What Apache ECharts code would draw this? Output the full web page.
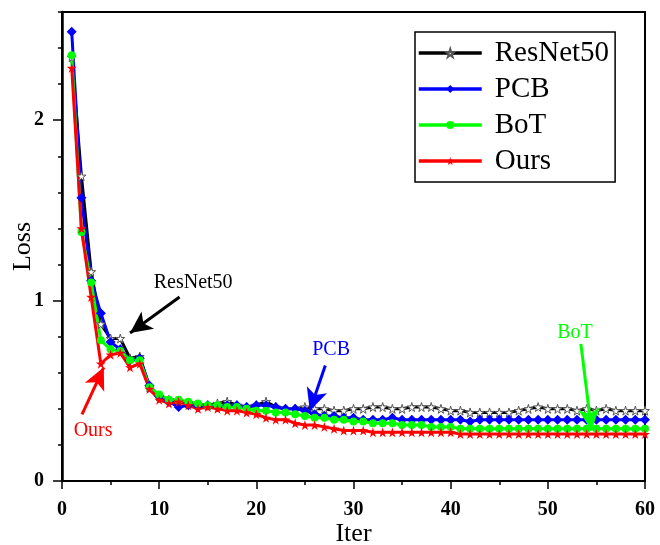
<!DOCTYPE html>
<html>
<head>
<meta charset="utf-8">
<script src="https://cdn.jsdelivr.net/npm/echarts@6/dist/echarts.min.js"></script>
<style>
  html, body { margin: 0; padding: 0; background: #fff; }
  #main { width: 660px; height: 545px; }
</style>
</head>
<body>
<div id="main"></div>
<script>
  // iteration index (x axis)
  var iters = [1, 2, 3, 4, 5, 6, 7, 8, 9, 10, 11, 12, 13, 14, 15, 16, 17, 18, 19, 20,
    21, 22, 23, 24, 25, 26, 27, 28, 29, 30, 31, 32, 33, 34, 35, 36, 37, 38, 39, 40,
    41, 42, 43, 44, 45, 46, 47, 48, 49, 50, 51, 52, 53, 54, 55, 56, 57, 58, 59, 60]

  var resnet50 = [2.35, 1.69, 1.16, 0.87, 0.79, 0.79, 0.68, 0.69, 0.52, 0.47,
    0.45, 0.44, 0.43, 0.42, 0.42, 0.43, 0.44, 0.42, 0.41, 0.42,
    0.44, 0.41, 0.40, 0.40, 0.41, 0.40, 0.40, 0.39, 0.39, 0.40,
    0.40, 0.41, 0.41, 0.40, 0.40, 0.41, 0.41, 0.41, 0.40, 0.39,
    0.39, 0.38, 0.38, 0.38, 0.38, 0.38, 0.39, 0.40, 0.41, 0.40,
    0.40, 0.40, 0.39, 0.40, 0.39, 0.40, 0.39, 0.39, 0.39, 0.39]

  var pcb = [2.49, 1.57, 1.11, 0.93, 0.77, 0.73, 0.67, 0.68, 0.53, 0.47,
    0.44, 0.41, 0.42, 0.41, 0.42, 0.41, 0.42, 0.42, 0.41, 0.42,
    0.42, 0.41, 0.40, 0.40, 0.39, 0.37, 0.36, 0.36, 0.35, 0.35,
    0.34, 0.34, 0.34, 0.35, 0.34, 0.34, 0.34, 0.34, 0.34, 0.34,
    0.34, 0.33, 0.34, 0.34, 0.34, 0.34, 0.34, 0.34, 0.34, 0.34,
    0.34, 0.34, 0.34, 0.34, 0.34, 0.34, 0.34, 0.34, 0.34, 0.34]

  var bot = [2.36, 1.38, 1.10, 0.78, 0.73, 0.72, 0.67, 0.67, 0.52, 0.48,
    0.45, 0.45, 0.44, 0.43, 0.42, 0.42, 0.41, 0.41, 0.40, 0.39,
    0.39, 0.38, 0.38, 0.37, 0.36, 0.35, 0.35, 0.34, 0.34, 0.33,
    0.33, 0.32, 0.32, 0.32, 0.31, 0.31, 0.31, 0.30, 0.30, 0.30,
    0.29, 0.29, 0.29, 0.29, 0.29, 0.29, 0.29, 0.29, 0.29, 0.29,
    0.29, 0.29, 0.29, 0.29, 0.29, 0.29, 0.29, 0.29, 0.29, 0.29]

  var ours = [2.29, 1.40, 1.02, 0.65, 0.70, 0.71, 0.63, 0.65, 0.51, 0.45,
    0.43, 0.44, 0.42, 0.40, 0.41, 0.40, 0.39, 0.39, 0.38, 0.37,
    0.35, 0.34, 0.34, 0.32, 0.31, 0.31, 0.30, 0.29, 0.28, 0.28,
    0.28, 0.27, 0.27, 0.27, 0.27, 0.27, 0.27, 0.27, 0.27, 0.27,
    0.26, 0.26, 0.26, 0.26, 0.26, 0.26, 0.26, 0.26, 0.26, 0.26,
    0.26, 0.26, 0.26, 0.26, 0.26, 0.26, 0.26, 0.26, 0.26, 0.26]

  var yLabelTicks = [0, 1, 2]

  var font = 'Liberation Serif'
  var star = 'path://M50,0 L61,35 L98,35 L68,57 L79,91 L50,70 L21,91 L32,57 L2,35 L39,35 Z'

  function pairs(vals) {
    return iters.map(function (x, i) { return [x, vals[i]] })
  }

  // arrow + text annotation in data coordinates
  function note(text, color, pos, from, to) {
    return {
      markLine: {
        silent: true,
        animation: false,
        symbol: ['none', 'arrow'],
        symbolSize: [16, 22],
        lineStyle: { color: color, width: 3, type: 'solid' },
        label: { show: false },
        data: [[{ coord: from }, { coord: to }]]
      },
      markPoint: {
        silent: true,
        animation: false,
        symbol: 'circle',
        symbolSize: 0,
        label: { show: true, formatter: text, color: color, fontSize: 20, fontFamily: font, position: 'inside' },
        data: [{ coord: pos }]
      }
    }
  }

  var myChart = echarts.init(document.getElementById('main'))

  var mk = function (name, vals, color, symbol, size, itemStyle, n) {
    return Object.assign({
      name: name,
      type: 'line',
      data: pairs(vals),
      symbol: symbol,
      symbolSize: size,
      lineStyle: { color: color, width: 3 },
      itemStyle: itemStyle,
      animation: false
    }, n)
  }

  var option = {
    backgroundColor: '#fff',
    grid: {
      left: 62, right: 15, top: 12, bottom: 64,
      show: true, borderColor: '#000', borderWidth: 2,
      outerBoundsMode: 'none'
    },
    legend: {
      orient: 'vertical',
      left: 415, top: 32,
      padding: [6, 6, 6, 2],
      itemWidth: 63, itemHeight: 10, itemGap: 6,
      borderColor: '#000', borderWidth: 1.5,
      lineStyle: { width: 3.5 },
      textStyle: { fontSize: 29, fontFamily: font, color: '#000', lineHeight: 30, padding: [0, 0, 0, 8] },
      data: ['ResNet50', 'PCB', 'BoT', 'Ours']
    },
    xAxis: {
      type: 'value',
      min: 0, max: 60, interval: 10,
      name: 'Iter', nameLocation: 'middle', nameGap: 40, nameMoveOverlap: false,
      nameTextStyle: { fontSize: 26, fontFamily: font, color: '#000' },
      axisLine: { lineStyle: { color: '#000', width: 2 } },
      axisTick: { length: 8, lineStyle: { color: '#000', width: 1.5 } },
      minorTick: { show: true, splitNumber: 2, length: 4, lineStyle: { color: '#000', width: 1.5 } },
      axisLabel: { fontSize: 20, fontWeight: 'bold', fontFamily: font, color: '#000', margin: 19 },
      splitLine: { show: false }
    },
    yAxis: [
      {
        type: 'value',
        min: 0, max: 2.6, interval: 0.2,
        name: 'Loss', nameLocation: 'middle', nameGap: 26, nameMoveOverlap: false,
        nameTextStyle: { fontSize: 26, fontFamily: font, color: '#000' },
        axisLine: { show: true, lineStyle: { color: '#000', width: 2.5 } },
        axisTick: { length: 4, lineStyle: { color: '#000', width: 1.5 } },
        axisLabel: { customValues: yLabelTicks, fontSize: 20, fontWeight: 'bold', fontFamily: font, color: '#000', margin: 18 },
        splitLine: { show: false }
      },
      {
        type: 'value',
        min: 0, max: 2.6,
        position: 'left',
        axisLine: { show: false },
        axisTick: { show: true, customValues: yLabelTicks, length: 9, lineStyle: { color: '#000', width: 1.5 } },
        axisLabel: { show: false },
        splitLine: { show: false }
      }
    ],
    series: [
      mk('ResNet50', resnet50, '#000', star, 9, { color: '#fff', borderColor: '#555', borderWidth: 1 },
        note('ResNet50', '#000', [13.5, 1.1], [12.1, 1.02], [7.0, 0.82])),
      mk('PCB', pcb, '#0000ff', 'diamond', 10, { color: '#0000ff' },
        note('PCB', '#0000ff', [27.7, 0.73], [27.1, 0.64], [25.5, 0.39])),
      mk('BoT', bot, '#00ff00', 'circle', 8, { color: '#00ff00' },
        note('BoT', '#00ff00', [52.8, 0.82], [53.4, 0.76], [54.5, 0.28])),
      mk('Ours', ours, '#ff0000', star, 10, { color: '#ff0000' },
        note('Ours', '#ff0000', [3.2, 0.28], [2.06, 0.37], [4.3, 0.63]))
    ]
  }

  myChart.setOption(option)
  window.addEventListener('resize', function () {
    myChart.resize()
  })
</script>
</body>
</html>
